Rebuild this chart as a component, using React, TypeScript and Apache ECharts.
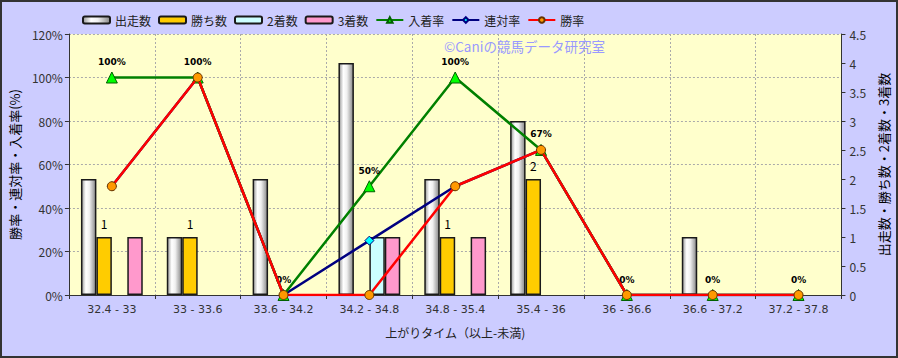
import React, { useEffect, useRef } from 'react';
import * as echarts from 'echarts';

const categories = ['32.4 - 33', '33 - 33.6', '33.6 - 34.2', '34.2 - 34.8', '34.8 - 35.4', '35.4 - 36', '36 - 36.6', '36.6 - 37.2', '37.2 - 37.8'];
const runs = [2, 1, 2, 4, 2, 3, 0, 1, 0];
const wins = [1, 1, 0, 0, 1, 2, 0, 0, 0];
const seconds = [0, 0, 0, 1, 0, 0, 0, 0, 0];
const thirds = [1, 0, 0, 1, 1, 0, 0, 0, 0];
const placeRate = [100, 100, 0, 50, 100, 66.7, 0, 0, 0];
const quinellaRate = [50, 100, 0, 25, 50, 66.7, 0, 0, 0];
const winRate = [50, 100, 0, 0, 50, 66.7, 0, 0, 0];

const seriesNames = ['出走数', '勝ち数', '2着数', '3着数', '入着率', '連対率', '勝率'];
const leftAxisName = '勝率・連対率・入着率(%)';
const rightAxisName = '出走数・勝ち数・2着数・3着数';
const xAxisName = '上がりタイム（以上-未満)';
const watermark = '©Caniの競馬データ研究室';

const FONT = '"Noto Sans CJK JP", "DejaVu Sans", sans-serif';

const nz = (arr: number[]) => arr.map((v) => (v === 0 ? '-' : v));

export default function App() {
  const ref = useRef<HTMLDivElement>(null);
  useEffect(() => {
    if (!ref.current) return;
    const chart = echarts.init(ref.current, undefined, { renderer: 'svg' });
    const barBorder = { borderColor: '#1a1a1a', borderWidth: 1.5 };
    const option: any = {
      animation: false,
      backgroundColor: '#CCCCFF',
      textStyle: { fontFamily: FONT },
      legend: {
        left: 77,
        top: 9,
        itemWidth: 27,
        itemHeight: 7,
        itemGap: 7,
        textStyle: { fontSize: 12, color: '#222', fontFamily: FONT },
        data: seriesNames,
      },
      graphic: [
        {
          type: 'rect',
          shape: { x: 1, y: 1, width: 896, height: 356 },
          style: { fill: 'none', stroke: '#333', lineWidth: 2 },
          silent: true,
          z: 100,
        },
        {
          type: 'text',
          left: 444,
          top: 39,
          style: { text: watermark, fill: '#9999ff', fontSize: 13.5, fontFamily: FONT },
          z: 100,
        },
      ],
      grid: {
        left: 65,
        right: 53,
        top: 34,
        bottom: 63,
        show: true,
        backgroundColor: '#FFFFCC',
        borderWidth: 0,
      },
      xAxis: {
        type: 'category',
        data: categories,
        name: xAxisName,
        nameLocation: 'middle',
        nameGap: 31,
        nameTextStyle: { fontSize: 12, color: '#222', fontFamily: FONT },
        axisLine: { lineStyle: { color: '#333', width: 1 } },
        axisTick: { show: true, length: 4, lineStyle: { color: '#333' } },
        axisLabel: { fontSize: 11, color: '#333', margin: 9, fontFamily: '"DejaVu Sans", sans-serif' },
        splitLine: { show: true, lineStyle: { color: '#aaa', type: [2, 2] } },
      },
      yAxis: [
        {
          type: 'value',
          min: 0,
          max: 120,
          interval: 20,
          position: 'left',
          name: leftAxisName,
          nameLocation: 'middle',
          nameGap: 39,
          nameRotate: 90,
          nameTextStyle: { fontSize: 13, color: '#000', fontFamily: FONT },
          axisLine: { show: true, lineStyle: { color: '#333' } },
          axisTick: { show: true, length: 4, lineStyle: { color: '#333' } },
          axisLabel: { formatter: '{value}%', fontSize: 12, color: '#333', margin: 6, fontFamily: FONT },
          splitLine: { show: true, lineStyle: { color: '#aaa', type: [2, 2] } },
        },
        {
          type: 'value',
          min: 0,
          max: 4.5,
          interval: 0.5,
          position: 'right',
          name: rightAxisName,
          nameLocation: 'middle',
          nameGap: 35,
          nameRotate: 90,
          nameTextStyle: { fontSize: 13, color: '#000', fontFamily: FONT },
          axisLine: { show: true, lineStyle: { color: '#333' } },
          axisTick: { show: true, length: 4, lineStyle: { color: '#333' } },
          axisLabel: { fontSize: 12, color: '#333', margin: 8, fontFamily: FONT },
          splitLine: { show: false },
        },
      ],
      series: [
        {
          name: seriesNames[0],
          type: 'bar',
          yAxisIndex: 1,
          data: nz(runs),
          barGap: '0%',
          barCategoryGap: '28%',
          itemStyle: {
            ...barBorder,
            color: new echarts.graphic.LinearGradient(0, 0, 1, 0, [
              { offset: 0, color: '#9a9a9a' },
              { offset: 0.3, color: '#ffffff' },
              { offset: 0.55, color: '#f0f0f0' },
              { offset: 1, color: '#888888' },
            ]),
          },
        },
        {
          name: seriesNames[1],
          type: 'bar',
          yAxisIndex: 1,
          data: nz(wins),
          itemStyle: { ...barBorder, color: '#FFCC00' },
          label: {
            show: true,
            position: 'top',
            distance: 8,
            fontSize: 12,
            color: '#000',
            fontFamily: FONT,
          },
        },
        {
          name: seriesNames[2],
          type: 'bar',
          yAxisIndex: 1,
          data: nz(seconds),
          itemStyle: { ...barBorder, color: '#CCFFFF' },
        },
        {
          name: seriesNames[3],
          type: 'bar',
          yAxisIndex: 1,
          data: nz(thirds),
          itemStyle: { ...barBorder, color: '#FF99CC' },
        },
        {
          name: seriesNames[4],
          type: 'line',
          yAxisIndex: 0,
          data: placeRate,
          symbol: 'triangle',
          symbolSize: 11,
          lineStyle: { color: '#008000', width: 2.5 },
          itemStyle: { color: '#00FF00', borderColor: '#006000', borderWidth: 1 },
          label: {
            show: true,
            position: 'top',
            distance: 5,
            fontSize: 9,
            fontWeight: 'bold',
            color: '#000',
            fontFamily: '"DejaVu Sans", sans-serif',
            formatter: (p: any) => Math.round(p.value) + '%',
          },
          z: 3,
        },
        {
          name: seriesNames[5],
          type: 'line',
          yAxisIndex: 0,
          data: quinellaRate,
          symbol: 'diamond',
          symbolSize: 9,
          lineStyle: { color: '#000080', width: 2.5 },
          itemStyle: { color: '#00FFFF', borderColor: '#000080', borderWidth: 1 },
          z: 2,
        },
        {
          name: seriesNames[6],
          type: 'line',
          yAxisIndex: 0,
          data: winRate,
          symbol: 'circle',
          symbolSize: 9,
          lineStyle: { color: '#FF0000', width: 2.5 },
          itemStyle: { color: '#FF9900', borderColor: '#663300', borderWidth: 1 },
          z: 4,
        },
      ],
    };
    chart.setOption(option);
    return () => chart.dispose();
  }, []);
  return (
    <div
      ref={ref}
      style={{ position: 'fixed', left: 0, top: 0, width: 898, height: 358 }}
    />
  );
}
